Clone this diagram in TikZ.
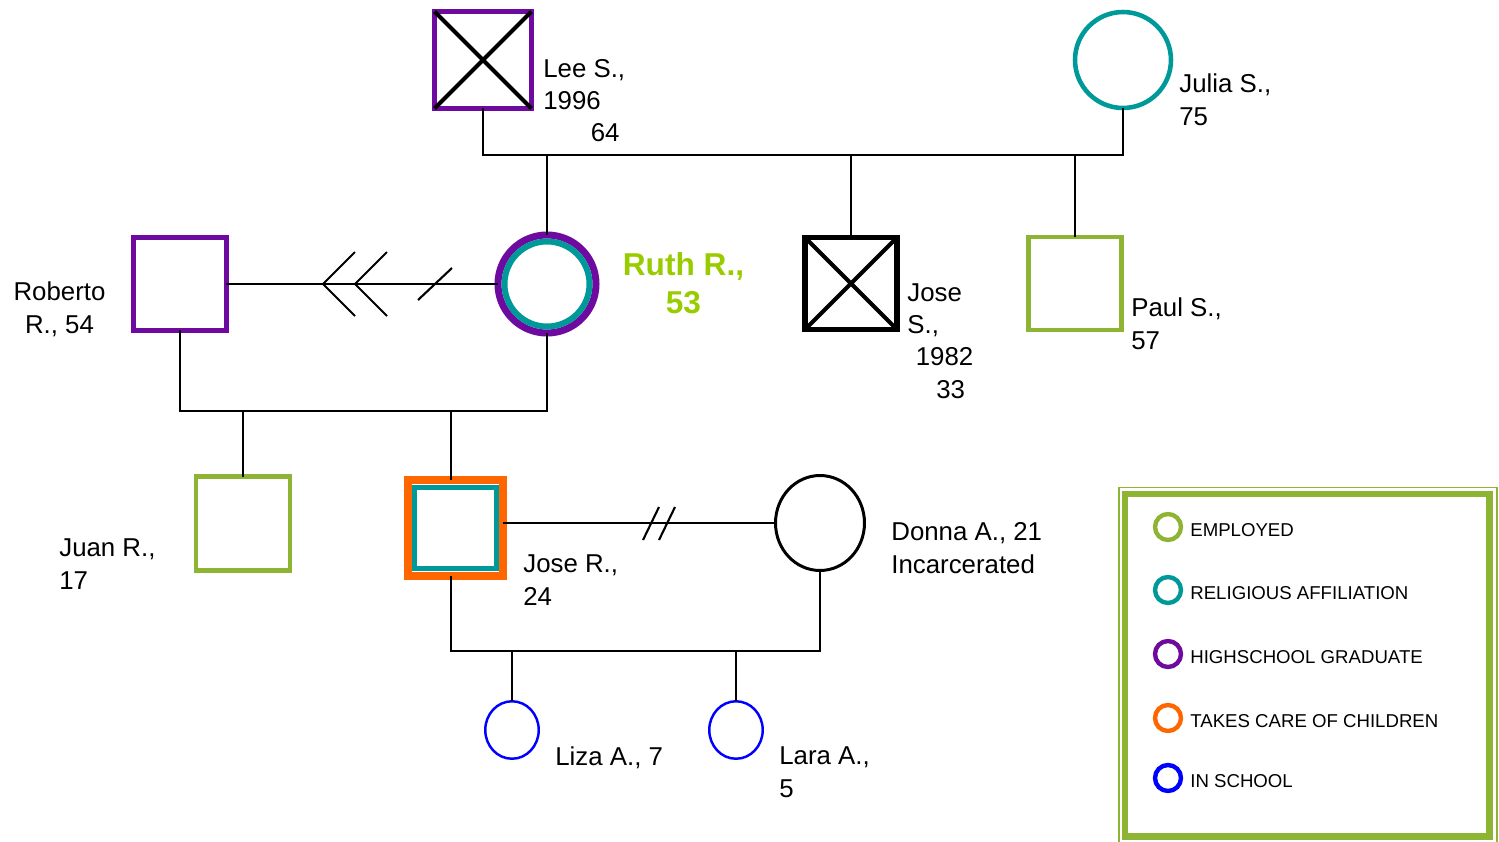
\documentclass[tikz,border=0pt]{standalone}
\usepackage{fontspec}
\setmainfont{Liberation Sans}
\usetikzlibrary{shapes.geometric}
\definecolor{employed}{RGB}{141,180,50}
\definecolor{faith}{RGB}{0,153,153}
\definecolor{grad}{RGB}{110,10,160}
\definecolor{carer}{RGB}{255,102,0}
\definecolor{school}{RGB}{0,0,255}
\definecolor{ruthgreen}{RGB}{153,204,0}

\begin{document}
\begin{tikzpicture}[x=0.02cm, y=-0.02cm,
    male/.style={rectangle, draw, line width=2.3pt, minimum size=1.86cm, inner sep=0pt, outer sep=0pt},
    female/.style={circle, draw, line width=2.6pt, minimum size=1.92cm, inner sep=0pt, outer sep=0pt},
    kid/.style={ellipse, draw=school, line width=1.4pt, minimum width=1.07cm, minimum height=1.15cm, inner sep=0pt, outer sep=0pt},
    kin/.style={line width=1.2pt},
    lbl/.style={anchor=base west, align=left, inner sep=0pt, font=\fontsize{14.7}{18.3}\selectfont},
    swatch/.style={circle, draw, line width=2.5pt, minimum size=0.52cm, inner sep=0pt},
    swatchtext/.style={anchor=base west, inner sep=0pt, font=\fontsize{10.6}{12}\selectfont}]
    \useasboundingbox (0,0) rectangle (1499,842);
    % grandparents
    \node[male, draw=grad, minimum size=1.94cm] (lee) at (483,60) {};
    \node[female, draw=faith] (julia) at (1123,60) {};
    % their children
    \node[female, draw=grad, line width=4pt, minimum size=1.96cm] (ruth) at (547,284) {};
    \node[female, draw=faith, line width=3.4pt, minimum size=1.7cm] (ruthin) at (ruth) {};
    \node[male, line width=3.1pt, minimum size=1.84cm] (joses) at (851,283.5) {};
    \node[male, draw=employed] (paul) at (1075,283.5) {};
    \node[male, draw=grad] (roberto) at (180,284) {};
    % grandchildren
    \node[male, draw=employed, minimum size=1.88cm] (juan) at (243,523.5) {};
    \node[male, draw=carer, line width=4.5pt, minimum size=1.91cm] (josero) at (455.5,528) {};
    \node[male, draw=faith, line width=3.1pt, minimum size=1.63cm] (joseroin) at (josero) {};
    \node[ellipse, draw, line width=1.7pt, minimum width=1.78cm, minimum height=1.9cm, inner sep=0pt, outer sep=0pt] (donna) at (820,523) {};
    \node[kid] (liza) at (512,730) {};
    \node[kid] (lara) at (736,730) {};
    % deceased
    \foreach \p in {lee,joses}
        \draw[line width=2.3pt] (\p.north west) -- (\p.south east) (\p.north east) -- (\p.south west);
    % family lines
    \coordinate (gp) at (547,155);
    \draw[kin] (lee.south) |- (gp) -| (julia.south);
    \foreach \k in {ruth,joses,paul}
        \draw[kin] (\k.north) -- (\k.north |- gp);
    \draw[kin] (roberto.east) -- (ruth.west);
    \foreach \x in {323,355}
        \draw[kin] (\x+32,252) -- (\x,284) -- (\x+32,316);
    \draw[kin] (418,300) -- (452,268);
    \coordinate (rp) at (451,411);
    \draw[kin] (roberto.south) |- (rp) -| (ruth.south);
    \draw[kin] (juan.north) -- (juan.north |- rp);
    \draw[kin] (rp) -- (rp |- josero.north);
    \draw[kin] (josero.east |- donna.west) -- (donna.west);
    \foreach \x in {643,659}
        \draw[kin] (\x,540) -- (\x+16,507);
    \coordinate (kp) at (451,651);
    \draw[kin] (kp |- josero.south) -- (kp) -| (donna.south);
    \foreach \k in {liza,lara}
        \draw[kin] (\k.north) -- (\k.north |- kp);
    % names (placed at the baseline of the last line)
    \node[lbl] (leename) at (543,141.6) {Lee S.,\\1996\\\hspace*{27pt}64};
    \node[lbl] (julianame) at (1179,125) {Julia S.,\\75};
    \node[anchor=base, align=center, inner sep=0pt, text=ruthgreen, font=\fontsize{18}{21.4}\selectfont\bfseries] (ruthname) at (683.5,313) {Ruth R.,\\53};
    \node[lbl, anchor=base, align=center] (robertoname) at (59.5,333) {Roberto\\R., 54};
    \node[lbl] (josesname) at (907,398) {Jose\\S.,\\\hspace*{4.8pt}1982\\\hspace*{16.5pt}33};
    \node[lbl] (paulname) at (1131,349) {Paul S.,\\57};
    \node[lbl] (juanname) at (59,589) {Juan R.,\\17};
    \node[lbl] (joseroname) at (523,605) {Jose R.,\\24};
    \node[lbl] (donnaname) at (891,573) {Donna A., 21\\Incarcerated};
    \node[lbl] (lizaname) at (555,765) {Liza A., 7};
    \node[lbl] (laraname) at (779,797) {Lara A.,\\5};
    % legend
    \draw[employed, line width=1pt] (1119,487.5) rectangle (1497,842.5);
    \draw[employed, line width=3.8pt] (1125,494) rectangle (1489.3,836.3);
    \foreach \col/\txt/\y in {employed/EMPLOYED/527, faith/RELIGIOUS AFFILIATION/590, grad/HIGHSCHOOL GRADUATE/654, carer/TAKES CARE OF CHILDREN/718, school/IN SCHOOL/778} {
        \node[swatch, draw=\col] (sw\y) at (1168,\y) {};
        \node[swatchtext] (swtxt\y) at (1190,\y+9) {\txt};
    }
\end{tikzpicture}
\end{document}
